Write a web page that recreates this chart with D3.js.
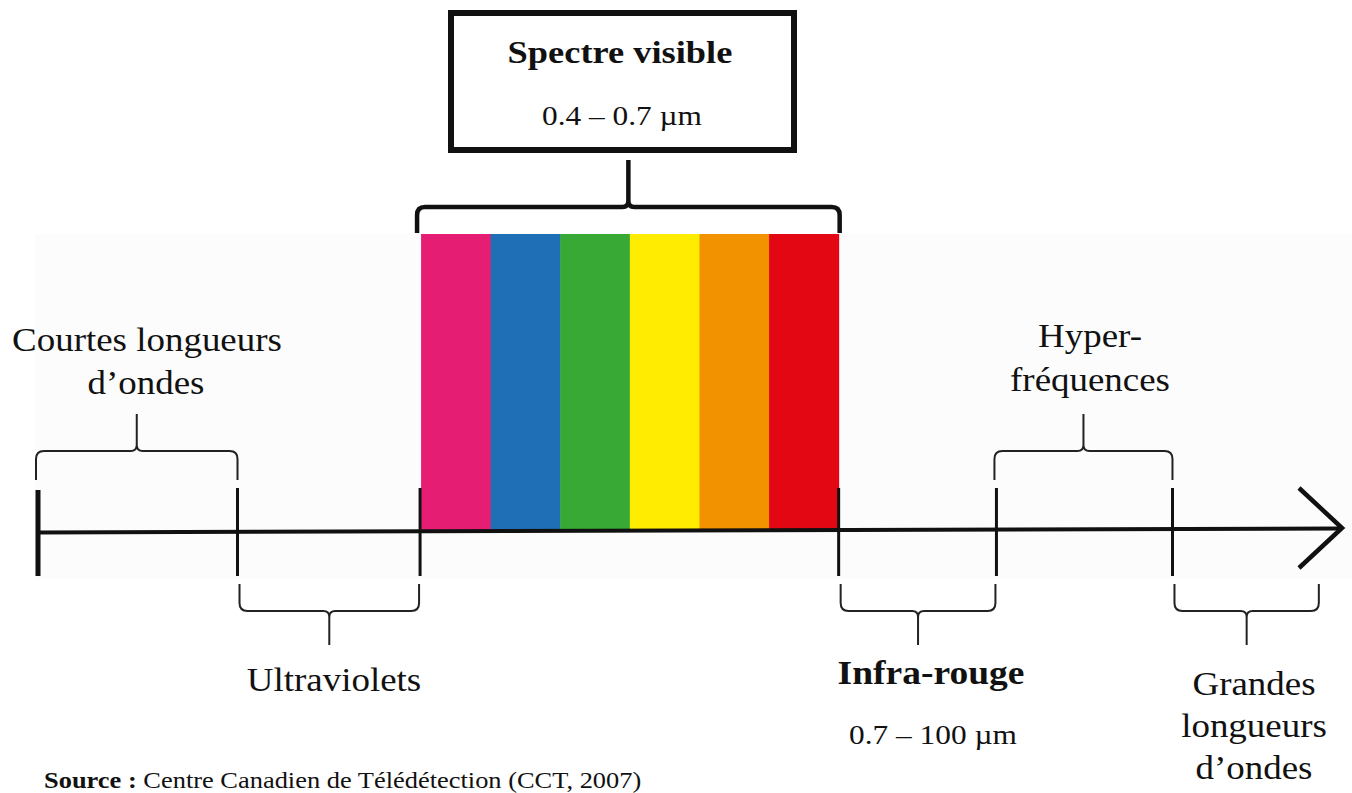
<!DOCTYPE html>
<html><head><meta charset="utf-8">
<script src="https://cdn.jsdelivr.net/npm/d3@7"></script>
<style>
html,body{margin:0;padding:0;background:#fff;}
svg{display:block;}
text{font-family:"Liberation Serif","Times New Roman",serif;fill:#111;}
</style></head>
<body>
<svg id="c" width="1352" height="793"></svg>
<script>
// ---- data ----
const boundaries = [0, 15.3, 29.3, 61.4, 73.5, 87.0];           // tick positions along the spectrum axis (0..100)
const axisEnd = 100;
const visibleColors = ["#E61E73", "#1F6FB6", "#39A935", "#FFEC00", "#F39200", "#E30613"];
const visibleBands = ["violet", "bleu", "vert", "jaune", "orange", "rouge"];
const aboveBraces = [
  {from: 0, to: 15.3, lines: ["Courtes longueurs", "d\u2019ondes"]},
  {from: 73.5, to: 87.0, lines: ["Hyper-", "fr\u00e9quences"]}
];
const belowBraces = [
  {from: 15.3, to: 29.3, lines: ["Ultraviolets"]},
  {from: 61.4, to: 73.5, lines: ["Infra-rouge", "0.7 \u2013 100 \u00b5m"]},
  {from: 87.0, to: 98.3, lines: ["Grandes", "longueurs", "d\u2019ondes"]}
];
const visibleTitle = "Spectre visible";
const visibleRange = "0.4 \u2013 0.7 \u00b5m";
const sourceBold = "Source :";
const sourceText = " Centre Canadien de T\u00e9l\u00e9d\u00e9tection (CCT, 2007)";

// ---- drawing ----
const svg = d3.select("#c");
const x = d3.scaleLinear().domain([0, axisEnd]).range([38, 1342]);
const axisY = 531;
const SX = 1.12; // horizontal stretch of the original typesetting

function txt(px, py, s, size, opts = {}) {
  const t = svg.append("text")
    .attr("transform", `translate(${px},${py}) scale(${SX},1)`)
    .attr("text-anchor", opts.anchor || "middle")
    .attr("font-size", size)
    .attr("font-weight", opts.bold ? "bold" : null);
  if (s !== null) t.text(s);
  return t;
}

// faint background panel
svg.append("rect").attr("x", 35).attr("y", 234).attr("width", 1317).attr("height", 345).attr("fill", "#fcfcfc");

// visible spectrum bands
const band = d3.scaleBand().domain(visibleBands).range([x(boundaries[2]) + 1, x(boundaries[3])]);
svg.selectAll("rect.band").data(visibleBands).join("rect").attr("class", "band")
  .attr("x", d => band(d)).attr("y", 234).attr("width", band.bandwidth() + 0.5).attr("height", axisY - 234)
  .attr("fill", (d, i) => visibleColors[i]);

// main axis line
svg.append("line").attr("x1", x(0)).attr("x2", x(axisEnd) - 2).attr("y1", axisY + 1.5).attr("y2", axisY - 2.5)
  .attr("stroke", "#111").attr("stroke-width", 4);
// arrow head
svg.append("path")
  .attr("d", `M${x(axisEnd) - 43},${axisY - 43} L${x(axisEnd)},${axisY - 3} L${x(axisEnd) - 43},${axisY + 37}`)
  .attr("fill", "none").attr("stroke", "#111").attr("stroke-width", 4.5);

// ticks
svg.selectAll("line.tick").data(boundaries).join("line").attr("class", "tick")
  .attr("x1", d => x(d)).attr("x2", d => x(d))
  .attr("y1", (d, i) => i === 0 ? 490 : 488).attr("y2", 576)
  .attr("stroke", "#111").attr("stroke-width", (d, i) => i === 0 ? 5 : 3);

function brace(x0, x1, yEnd, yH, yCusp) {
  const xm = (x0 + x1) / 2, s = Math.sign(yEnd - yH), r = 8, rc = 6;
  return `M${x0},${yEnd} L${x0},${yH + s * r} Q${x0},${yH} ${x0 + r},${yH} L${xm - rc},${yH} Q${xm},${yH} ${xm},${yH - s * rc} L${xm},${yCusp}` +
         ` M${xm},${yCusp} L${xm},${yH - s * rc} Q${xm},${yH} ${xm + rc},${yH} L${x1 - r},${yH} Q${x1},${yH} ${x1},${yH + s * r} L${x1},${yEnd}`;
}

// braces above
svg.selectAll("path.ab").data(aboveBraces).join("path").attr("class", "ab")
  .attr("d", d => brace(x(d.from) - 2, x(d.to), 480, 451, 414))
  .attr("fill", "none").attr("stroke", "#222").attr("stroke-width", 2);
// braces below
svg.selectAll("path.bb").data(belowBraces).join("path").attr("class", "bb")
  .attr("d", d => brace(x(d.from) + 2, x(d.to) - 1, 584, 611, 645))
  .attr("fill", "none").attr("stroke", "#222").attr("stroke-width", 2);

// big brace above visible
svg.append("path").attr("d", brace(x(boundaries[2]) - 3, x(boundaries[3]) + 1, 233, 207, 160))
  .attr("fill", "none").attr("stroke", "#111").attr("stroke-width", 4.5);

// box
svg.append("rect").attr("x", 451).attr("y", 13).attr("width", 343).attr("height", 137)
  .attr("fill", "#fff").attr("stroke", "#111").attr("stroke-width", 6);
txt(620, 63, visibleTitle, 32.5, {bold: true});
txt(622, 125, visibleRange, 28);

// labels above
txt(147, 351, aboveBraces[0].lines[0], 33);
txt(146, 394, aboveBraces[0].lines[1], 33);
txt(1090, 347, aboveBraces[1].lines[0], 33);
txt(1090, 391, aboveBraces[1].lines[1], 33);

// labels below
txt(334, 691, belowBraces[0].lines[0], 33);
txt(931, 684, belowBraces[1].lines[0], 33.5, {bold: true});
txt(933, 744, belowBraces[1].lines[1], 28);
belowBraces[2].lines.forEach((l, i) => txt(1254, 695 + i * 42, l, 33));

// source
const src = txt(44, 788, null, 23.6, {anchor: "start"});
src.append("tspan").attr("font-weight", "bold").text(sourceBold);
src.append("tspan").text(sourceText);
</script>
</body></html>
